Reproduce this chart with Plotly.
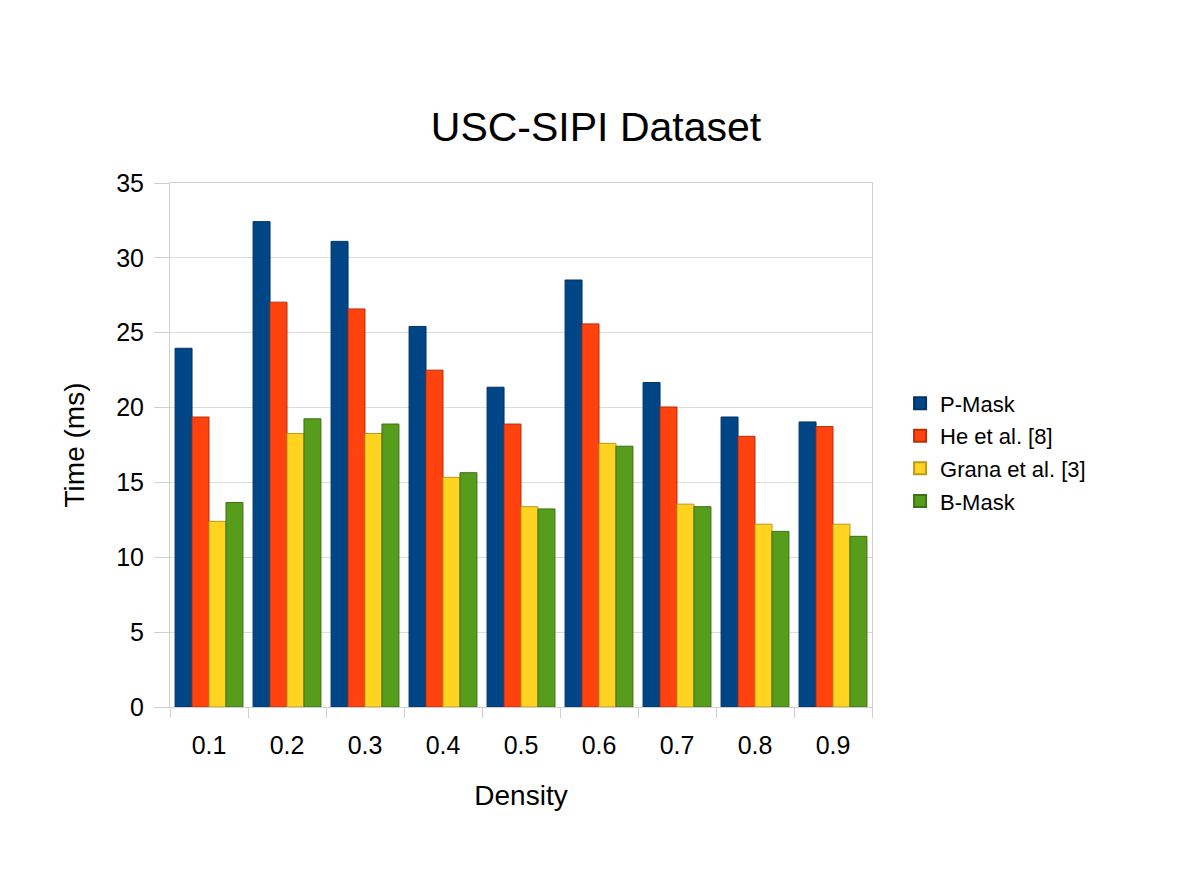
import plotly.graph_objects as go

categories = ["0.1", "0.2", "0.3", "0.4", "0.5", "0.6", "0.7", "0.8", "0.9"]
p_mask = [23.96, 32.42, 31.10, 25.42, 21.36, 28.52, 21.67, 19.37, 19.04]
he_et_al = [19.37, 27.04, 26.59, 22.50, 18.90, 25.59, 20.04, 18.08, 18.73]
grana_et_al = [12.40, 18.27, 18.27, 15.34, 13.38, 17.61, 13.55, 12.21, 12.21]
b_mask = [13.66, 19.25, 18.90, 15.65, 13.23, 17.42, 13.38, 11.73, 11.40]

series = [
    ("P-Mask", p_mask, "#004586", "#003366"),
    ("He et al. [8]", he_et_al, "#ff420e", "#b5300a"),
    ("Grana et al. [3]", grana_et_al, "#ffd320", "#b89a18"),
    ("B-Mask", b_mask, "#579d1c", "#3e7014"),
]

fig = go.Figure()
for i, (name, vals, col, line) in enumerate(series):
    fig.add_trace(go.Bar(
        x=categories, y=vals, name=name, showlegend=False,
        marker=dict(color=col, line=dict(color=line, width=1)),
    ))
    # legend entry with a larger square swatch
    fig.add_trace(go.Scatter(
        x=[None], y=[None], name=name, mode="markers", legendgroup=f"g{i}",
        marker=dict(symbol="square", size=16, color=col, line=dict(color=line, width=1)),
    ))

font = "Liberation Sans, Arial, sans-serif"
fig.update_layout(
    width=1200, height=872,
    paper_bgcolor="white", plot_bgcolor="white",
    margin=dict(l=162, r=336, t=175, b=173),
    barmode="group", bargap=0.13, bargroupgap=0,
    font=dict(family=font, color="#000000", size=25),
    title=dict(text="USC-SIPI Dataset", x=588 / 1200, xanchor="center",
               y=1 - 119 / 872, yanchor="middle",
               font=dict(size=41, family=font, color="#000000")),
    legend=dict(x=1.04, xanchor="left", y=0.486, yanchor="middle",
                font=dict(size=22, family=font), tracegroupgap=1,
                itemsizing="constant", bgcolor="rgba(0,0,0,0)"),
    xaxis=dict(
        title=dict(text="Density", font=dict(size=28, family=font), standoff=27),
        showgrid=False, showline=True, linecolor="#d0d0d0", linewidth=1,
        ticks="outside", tickson="boundaries", ticklen=10, tickcolor="#d0d0d0",
        mirror=True, tickfont=dict(size=25), ticklabelstandoff=16,
    ),
    yaxis=dict(
        title=dict(text="Time (ms)", font=dict(size=28, family=font), standoff=23),
        range=[0, 35], dtick=5, showgrid=True, gridcolor="#dcdcdc", gridwidth=1,
        showline=True, linecolor="#d0d0d0", linewidth=1, mirror=True,
        ticks="outside", ticklen=15, tickcolor="#d0d0d0", tickfont=dict(size=25),
        zeroline=False, ticklabelstandoff=5,
    ),
)

fig.write_html("out.html")
